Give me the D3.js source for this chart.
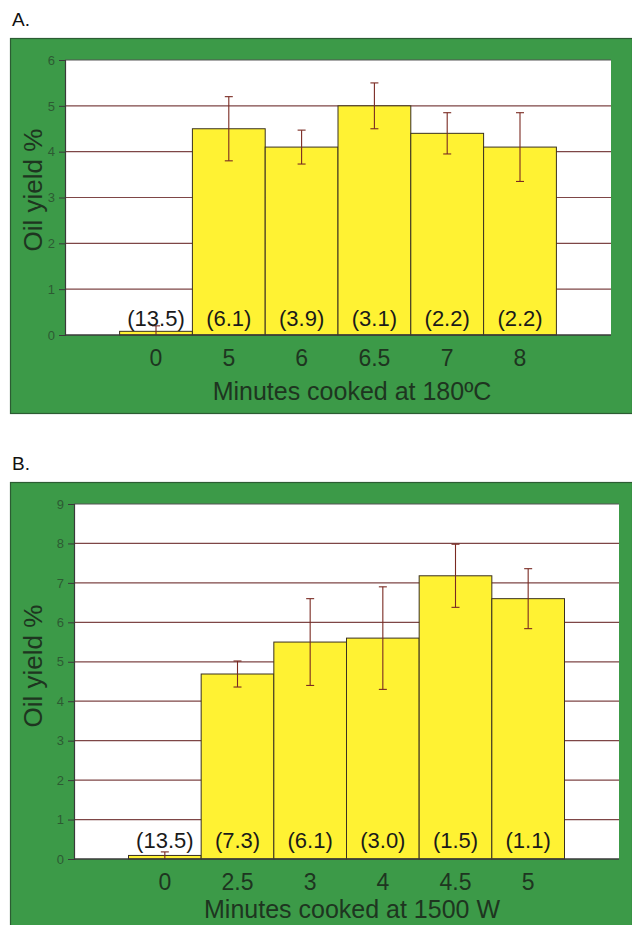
<!DOCTYPE html>
<html>
<head>
<meta charset="utf-8">
<script src="https://cdn.jsdelivr.net/npm/d3@7"></script>
<style>
  body { margin: 0; background: #fff; }
  svg { display: block; font-family: "Liberation Sans", Arial, sans-serif; }
</style>
</head>
<body>
<div id="chart"></div>
<script>
// Panel A: deep fried, 180 C
const catsA = ["0", "5", "6", "6.5", "7", "8"];
const yieldA = [0.08, 4.5, 4.1, 5.0, 4.4, 4.1];
const errA = [0.12, 0.7, 0.37, 0.5, 0.45, 0.75];
const notesA = ["(13.5)", "(6.1)", "(3.9)", "(3.1)", "(2.2)", "(2.2)"];
const ticksA = [0, 1, 2, 3, 4, 5, 6];

// Panel B: microwave, 1500 W
const catsB = ["0", "2.5", "3", "4", "4.5", "5"];
const yieldB = [0.09, 4.69, 5.5, 5.6, 7.18, 6.6];
const errB = [0.09, 0.33, 1.1, 1.3, 0.8, 0.76];
const notesB = ["(13.5)", "(7.3)", "(6.1)", "(3.0)", "(1.5)", "(1.1)"];
const ticksB = [0, 1, 2, 3, 4, 5, 6, 7, 8, 9];

const W = 632, H = 925;
const green = "#3c9a48";

const svg = d3.select("#chart").append("svg")
    .attr("width", W)
    .attr("height", H);

function panel(opt) {
  const g = svg.append("g");

  // panel letter
  g.append("text")
    .attr("x", 12).attr("y", opt.letterY)
    .attr("font-size", 19).attr("fill", "#111")
    .text(opt.letter);

  // green frame
  g.append("rect")
    .attr("x", 10.5).attr("y", opt.frameTop + 0.5)
    .attr("width", W - 10).attr("height", opt.frameBottom - opt.frameTop)
    .attr("fill", green).attr("stroke", "#2c5c33").attr("stroke-width", 1.2);

  const left = opt.left, right = opt.right, top = opt.top, bottom = opt.bottom;

  // plot area
  g.append("rect")
    .attr("x", left).attr("y", top)
    .attr("width", right - left).attr("height", bottom - top)
    .attr("fill", "#fff");

  const x = d3.scaleBand()
    .domain(opt.cats)
    .range([left, right])
    .paddingInner(0)
    .paddingOuter(0.75);

  const y = d3.scaleLinear()
    .domain([0, d3.max(opt.ticks)])
    .range([bottom, top]);

  // gridlines
  g.append("g")
    .selectAll("line")
    .data(opt.ticks.filter(t => t > 0))
    .join("line")
      .attr("x1", left).attr("x2", right)
      .attr("y1", d => y(d)).attr("y2", d => y(d))
      .attr("stroke", d => d === d3.max(opt.ticks) ? "#555" : "#7e4646")
      .attr("stroke-width", 1.2);

  // y axis
  const yAxis = g.append("g")
    .attr("transform", `translate(${left},0)`)
    .call(d3.axisLeft(y).tickValues(opt.ticks).tickSize(6).tickPadding(4).tickFormat(d3.format("d")));
  yAxis.select(".domain").attr("stroke", "#3a3a3a").attr("stroke-width", 1.2);
  yAxis.selectAll(".tick line").attr("stroke", "#3a3a3a");
  yAxis.selectAll("text")
    .attr("font-size", 13)
    .attr("fill", "#2d5a33")
    .attr("font-family", "Liberation Sans, Arial, sans-serif");

  // bars
  const data = opt.cats.map((c, i) => ({ cat: c, v: opt.vals[i], e: opt.errs[i], note: opt.notes[i] }));

  g.append("g")
    .selectAll("rect")
    .data(data)
    .join("rect")
      .attr("x", d => x(d.cat))
      .attr("y", d => y(d.v))
      .attr("width", x.bandwidth())
      .attr("height", d => bottom - y(d.v))
      .attr("fill", "#fff233")
      .attr("stroke", "#3a3020")
      .attr("stroke-width", 1);

  // error bars
  const eb = g.append("g")
    .selectAll("g")
    .data(data)
    .join("g")
      .attr("stroke", "#7a2a22")
      .attr("stroke-width", 1.1);
  eb.append("line")
    .attr("x1", d => x(d.cat) + x.bandwidth() / 2)
    .attr("x2", d => x(d.cat) + x.bandwidth() / 2)
    .attr("y1", d => y(d.v + d.e))
    .attr("y2", d => y(Math.max(0, d.v - d.e)));
  eb.append("line")
    .attr("x1", d => x(d.cat) + x.bandwidth() / 2 - 4)
    .attr("x2", d => x(d.cat) + x.bandwidth() / 2 + 4)
    .attr("y1", d => y(d.v + d.e))
    .attr("y2", d => y(d.v + d.e));
  eb.filter(d => d.v - d.e > 0).append("line")
    .attr("x1", d => x(d.cat) + x.bandwidth() / 2 - 4)
    .attr("x2", d => x(d.cat) + x.bandwidth() / 2 + 4)
    .attr("y1", d => y(d.v - d.e))
    .attr("y2", d => y(d.v - d.e));

  // x axis line
  g.append("line")
    .attr("x1", left).attr("x2", right)
    .attr("y1", bottom).attr("y2", bottom)
    .attr("stroke", "#3a3a3a").attr("stroke-width", 1.4);

  // notes inside bars
  g.append("g")
    .selectAll("text")
    .data(data)
    .join("text")
      .attr("x", d => x(d.cat) + x.bandwidth() / 2)
      .attr("y", opt.noteY)
      .attr("text-anchor", "middle")
      .attr("font-size", 22)
      .attr("fill", "#1a1a1a")
      .text(d => d.note);

  // x tick labels
  g.append("g")
    .selectAll("text")
    .data(opt.cats)
    .join("text")
      .attr("x", d => x(d) + x.bandwidth() / 2)
      .attr("y", opt.tickY)
      .attr("text-anchor", "middle")
      .attr("font-size", 23)
      .attr("fill", "#1e3520")
      .text(d => d);

  // x title
  g.append("text")
    .attr("x", 352).attr("y", opt.titleY)
    .attr("text-anchor", "middle")
    .attr("font-size", 25)
    .attr("fill", "#1e3520")
    .text(opt.xTitle);

  // y title
  g.append("text")
    .attr("transform", `translate(42,${opt.yTitleY}) rotate(-90)`)
    .attr("text-anchor", "middle")
    .attr("font-size", 26)
    .attr("fill", "#1e3520")
    .text("Oil yield %");
}

panel({
  letter: "A.", letterY: 26,
  frameTop: 38, frameBottom: 413,
  left: 65, right: 611, top: 60, bottom: 335,
  cats: catsA, vals: yieldA, errs: errA, notes: notesA, ticks: ticksA,
  noteY: 326, tickY: 366, titleY: 400, yTitleY: 190,
  xTitle: "Minutes cooked at 180ºC"
});

panel({
  letter: "B.", letterY: 470,
  frameTop: 482, frameBottom: 926,
  left: 74, right: 619, top: 504, bottom: 859,
  cats: catsB, vals: yieldB, errs: errB, notes: notesB, ticks: ticksB,
  noteY: 848, tickY: 890, titleY: 918, yTitleY: 666,
  xTitle: "Minutes cooked at 1500 W"
});
</script>
</body>
</html>
